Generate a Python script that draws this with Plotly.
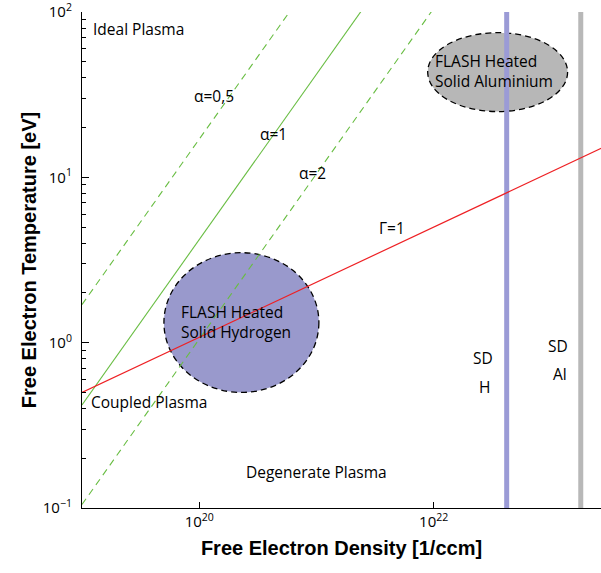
import plotly.graph_objects as go

# Plasma regime boundaries (n in 1/ccm, T in eV); straight lines in log-log space
gamma_n = [1e19, 1e24]
gamma_T = [0.5, 23.2]

alpha_labels = ["0,5", "1", "2"]
alpha_n = [1e19, 1e22]
alpha_T = {
    "0,5": [1.7, 1700.0],
    "1": [0.42, 420.0],
    "2": [0.105, 105.0],
}

# Solid densities (free electrons per ccm)
sd_h = 4.2e22
sd_al = 1.8e23
T_span = [0.1, 100.0]

# Regions reached by FLASH heating: [n_min, n_max], [T_min, T_max]
h_region_n = [5.0e19, 1.05e21]
h_region_T = [0.5, 3.5]
al_region_n = [8.9e21, 1.39e23]
al_region_T = [25.0, 75.0]

x_ticks = [1e20, 1e22]
x_ticktext = ["10<sup>20</sup>", "10<sup>22</sup>"]
y_ticks = [0.1, 1, 10, 100]
y_ticktext = ["10<sup>\u22121</sup>", "10<sup>0</sup>", "10<sup>1</sup>", "10<sup>2</sup>"]
y_minor = [m * d for d in (0.1, 1, 10) for m in range(2, 10)]

GREEN = "rgb(104,189,66)"
RED = "rgb(238,32,36)"
BLUE = "rgb(155,155,214)"
GREY = "rgb(184,184,184)"
TXT = "Open Sans"
FS = 15.5

fig = go.Figure()

# Heated regions as dashed ellipses below the lines
fig.add_shape(type="circle", xref="x", yref="y",
              x0=h_region_n[0], x1=h_region_n[1], y0=h_region_T[0], y1=h_region_T[1],
              fillcolor="rgb(153,153,204)", line=dict(color="black", width=1.3, dash="6px,4px"),
              layer="below")
fig.add_shape(type="circle", xref="x", yref="y",
              x0=al_region_n[0], x1=al_region_n[1], y0=al_region_T[0], y1=al_region_T[1],
              fillcolor="rgb(183,183,183)", line=dict(color="black", width=1.3, dash="6px,4px"),
              layer="below")

# Solid density markers
fig.add_trace(go.Scatter(x=[sd_h, sd_h], y=T_span, mode="lines",
                         line=dict(color=BLUE, width=5), hoverinfo="skip"))
fig.add_trace(go.Scatter(x=[sd_al, sd_al], y=T_span, mode="lines",
                         line=dict(color=GREY, width=5), hoverinfo="skip"))

# Degeneracy lines
for a in alpha_labels:
    fig.add_trace(go.Scatter(x=alpha_n, y=alpha_T[a], mode="lines",
                             line=dict(color=GREEN, width=1.1,
                                       dash="solid" if a == "1" else "7px,5px"),
                             hoverinfo="skip"))

# Coupling line
fig.add_trace(go.Scatter(x=gamma_n, y=gamma_T, mode="lines",
                         line=dict(color=RED, width=1.2), hoverinfo="skip"))

# Invisible trace carrying the long decade-tick axis
fig.add_trace(go.Scatter(x=[1e20], y=[1.0], yaxis="y2", mode="markers",
                         marker=dict(opacity=0), hoverinfo="skip"))

def note(text, lx, ly, anchor="center", align="center"):
    fig.add_annotation(x=lx, y=ly, xref="x", yref="y", text=text, showarrow=False,
                       xanchor=anchor, yanchor="middle", align=align,
                       font=dict(family=TXT, size=FS, color="black"))

note("Ideal Plasma", 19.077, 1.898, "left")
note("\u03b1=0,5", 20.126, 1.494)
note("\u03b1=1", 20.638, 1.265)
note("\u03b1=2", 20.967, 1.024)
note("\u0393=1", 21.645, 0.693)
note("Coupled Plasma", 19.06, -0.361, "left")
note("Degenerate Plasma", 20.997, -0.783)
note("FLASH Heated<br>Solid Hydrogen", 19.828, 0.127, "left", "left")
note("FLASH Heated<br>Solid Aluminium", 21.995, 1.645, "left", "left")
note("SD", 22.421, -0.09)
note("H", 22.43, -0.271)
note("SD", 23.057, -0.018)
note("Al", 23.078, -0.187)

# Main y axis: labels at decades, short ticks at every subdivision
all_y_ticks = y_ticks + y_minor
all_y_text = y_ticktext + [""] * len(y_minor)

fig.update_layout(
    width=601, height=573,
    margin=dict(l=82, r=0, t=10, b=65),
    plot_bgcolor="white", paper_bgcolor="white",
    showlegend=False,
    font=dict(family=TXT, size=14, color="black"),
    xaxis=dict(
        type="log", range=[19.0, 23.428],
        tickmode="array", tickvals=x_ticks, ticktext=x_ticktext,
        ticks="inside", ticklen=6, tickcolor="black", tickwidth=1.2,
        ticklabeloverflow="allow",
        showline=True, linecolor="black", linewidth=1.2,
        showgrid=False, zeroline=False,
        tickfont=dict(family=TXT, size=15),
        title=dict(text="<b>Free Electron Density [1/ccm]</b>",
                   font=dict(family="Liberation Sans", size=20, color="black"), standoff=10),
    ),
    yaxis=dict(
        type="log", range=[-1, 2],
        tickmode="array", tickvals=all_y_ticks, ticktext=all_y_text,
        ticks="inside", ticklen=4, tickcolor="black", tickwidth=1.2,
        ticklabeloverflow="allow", ticklabelstandoff=6,
        showline=True, linecolor="black", linewidth=1.2,
        showgrid=False, zeroline=False,
        tickfont=dict(family=TXT, size=15),
        title=dict(text="<b>Free Electron Temperature [eV]</b>",
                   font=dict(family="Liberation Sans", size=20, color="black"), standoff=0),
    ),
    yaxis2=dict(type="log", range=[-1, 2], overlaying="y", anchor="x", side="left",
                tickmode="array", tickvals=y_ticks, ticks="inside", ticklen=7,
                tickcolor="black", tickwidth=1.2, showticklabels=False,
                showline=False, showgrid=False, zeroline=False),
)

fig.write_html("out.html")
